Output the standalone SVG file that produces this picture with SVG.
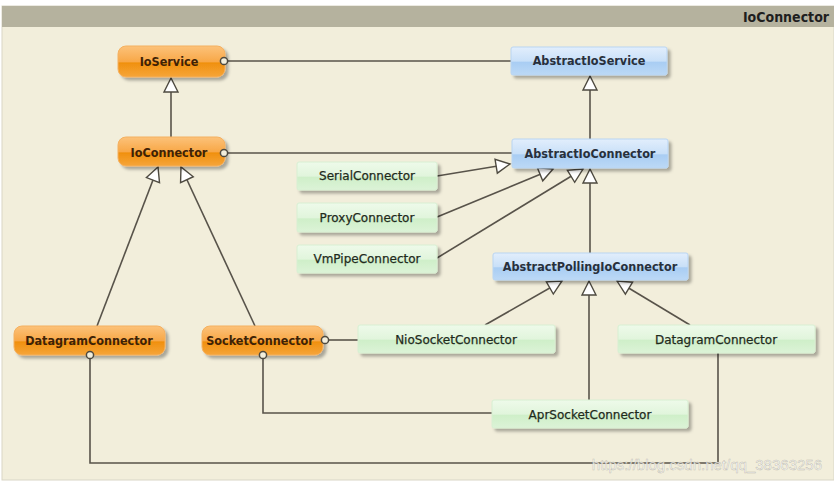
<svg xmlns="http://www.w3.org/2000/svg" width="834" height="483" viewBox="0 0 834 483">
<defs>
<linearGradient id="gOr" x1="0" y1="0" x2="0" y2="1">
<stop offset="0" stop-color="#fcc27a"/><stop offset="0.5" stop-color="#f8a848"/><stop offset="0.55" stop-color="#f0900f"/><stop offset="1" stop-color="#f6a53a"/>
</linearGradient>
<linearGradient id="gBl" x1="0" y1="0" x2="0" y2="1">
<stop offset="0" stop-color="#e2eefc"/><stop offset="0.5" stop-color="#c9e0f8"/><stop offset="0.55" stop-color="#a9cdf3"/><stop offset="1" stop-color="#bcd9f6"/>
</linearGradient>
<linearGradient id="gGr" x1="0" y1="0" x2="0" y2="1">
<stop offset="0" stop-color="#eefaea"/><stop offset="0.5" stop-color="#e1f5dc"/><stop offset="0.55" stop-color="#cfefc9"/><stop offset="1" stop-color="#dcf3d7"/>
</linearGradient>
<filter id="sh" x="-10%" y="-30%" width="130%" height="180%">
<feDropShadow dx="3" dy="3" stdDeviation="1.5" flood-color="#000" flood-opacity="0.3"/>
</filter>
<marker id="tri" markerUnits="userSpaceOnUse" markerWidth="18" markerHeight="18" viewBox="-16 -8 18 16" refX="0" refY="0" orient="auto">
<path d="M0,0 L-14,-7 L-14,7 Z" fill="#ffffff" stroke="#4e4a40" stroke-width="1.4" stroke-linejoin="miter"/>
</marker>
</defs>
<style>
.bg{fill:#f2eedb}
.ln{fill:none;stroke:#58534a;stroke-width:1.6}
.ar{fill:none;stroke:#58534a;stroke-width:1.6;marker-end:url(#tri)}
.dot{fill:#f2eedb;stroke:#4e4a40;stroke-width:1.5}
.or{fill:url(#gOr);stroke:#f4b060;stroke-width:1;filter:url(#sh)}
.bl{fill:url(#gBl);stroke:#b9d5f2;stroke-width:1;filter:url(#sh)}
.gr{fill:url(#gGr);stroke:#d8efd2;stroke-width:1;filter:url(#sh)}
.to{font-family:"DejaVu Sans Condensed","DejaVu Sans",sans-serif;font-size:12.5px;font-weight:bold;fill:#3e2206;text-anchor:middle}
.tb{font-family:"DejaVu Sans Condensed","DejaVu Sans",sans-serif;font-size:12.5px;font-weight:bold;fill:#28303c;text-anchor:middle}
.tg{font-family:"DejaVu Sans",sans-serif;font-size:12px;fill:#1f2b1c;text-anchor:middle;stroke:#1f2b1c;stroke-width:0.25}
</style>
<rect x="0" y="0" width="834" height="483" fill="#ffffff"/>
<rect x="2" y="6" width="832" height="474" class="bg" stroke="#d9d6c6" stroke-width="1"/>
<rect x="2" y="6" width="832" height="21" fill="#b5b29e"/>
<text x="829" y="22" font-family="DejaVu Sans Condensed, DejaVu Sans, sans-serif" font-size="14" font-weight="bold" fill="#1e1e1e" text-anchor="end">IoConnector</text>

<g id="connectors">
<line class="ln" x1="228" y1="61" x2="511" y2="61"/>
<line class="ln" x1="228" y1="153" x2="512" y2="153"/>
<line class="ar" x1="171" y1="137" x2="171" y2="78"/>
<line class="ar" x1="590" y1="139" x2="590" y2="76"/>
<line class="ar" x1="437" y1="176" x2="510" y2="164"/>
<line class="ar" x1="437" y1="217" x2="553" y2="169"/>
<line class="ar" x1="437" y1="258" x2="583" y2="169"/>
<line class="ar" x1="590" y1="253" x2="590" y2="169"/>
<line class="ar" x1="97" y1="326" x2="158" y2="167"/>
<line class="ar" x1="255" y1="326" x2="181" y2="167"/>
<line class="ar" x1="485" y1="325" x2="562" y2="281"/>
<line class="ar" x1="589" y1="400" x2="589" y2="281"/>
<line class="ar" x1="690" y1="325" x2="617" y2="281"/>
<line class="ln" x1="329" y1="340" x2="358" y2="340"/>
<polyline class="ln" points="263,359 263,413 492,413"/>
<polyline class="ln" points="90,359 90,463 718,463 718,353"/>
</g>

<g id="IoService"><rect class="or" x="118" y="46" width="107" height="31" rx="8"/><text class="to" x="169" y="66">IoService</text><circle class="dot" cx="224" cy="61" r="3.6"/></g>
<g id="AbstractIoService"><rect class="bl" x="511" y="47" width="156" height="28" rx="2"/><text class="tb" x="589" y="65">AbstractIoService</text></g>
<g id="IoConnector"><rect class="or" x="118" y="137" width="107" height="29" rx="8"/><text class="to" x="169" y="157">IoConnector</text><circle class="dot" cx="224" cy="153" r="3.6"/></g>
<g id="AbstractIoConnector"><rect class="bl" x="512" y="139" width="156" height="29" rx="2"/><text class="tb" x="590" y="158">AbstractIoConnector</text></g>
<g id="SerialConnector"><rect class="gr" x="297" y="162" width="140" height="28" rx="2"/><text class="tg" x="367" y="180">SerialConnector</text></g>
<g id="ProxyConnector"><rect class="gr" x="297" y="203" width="140" height="29" rx="2"/><text class="tg" x="367" y="222">ProxyConnector</text></g>
<g id="VmPipeConnector"><rect class="gr" x="297" y="245" width="140" height="28" rx="2"/><text class="tg" x="367" y="263">VmPipeConnector</text></g>
<g id="AbstractPollingIoConnector"><rect class="bl" x="493" y="253" width="195" height="27" rx="2"/><text class="tb" x="590" y="271">AbstractPollingIoConnector</text></g>
<g id="DatagramConnectorLeft"><rect class="or" x="14" y="326" width="151" height="29" rx="8"/><text class="to" x="89" y="345">DatagramConnector</text><circle class="dot" cx="90" cy="355" r="3.6"/></g>
<g id="SocketConnector"><rect class="or" x="202" y="326" width="121" height="29" rx="8"/><text class="to" x="260" y="345">SocketConnector</text><circle class="dot" cx="325" cy="340" r="3.6"/><circle class="dot" cx="263" cy="355" r="3.6"/></g>
<g id="NioSocketConnector"><rect class="gr" x="358" y="325" width="197" height="28" rx="2"/><text class="tg" x="456" y="344">NioSocketConnector</text></g>
<g id="DatagramConnectorRight"><rect class="gr" x="618" y="325" width="197" height="28" rx="2"/><text class="tg" x="716" y="344">DatagramConnector</text></g>
<g id="AprSocketConnector"><rect class="gr" x="492" y="400" width="196" height="28" rx="2"/><text class="tg" x="590" y="419">AprSocketConnector</text></g>

<text x="822" y="470" font-family="Liberation Sans, Arial, sans-serif" font-size="15" fill="#ffffff" fill-opacity="0.85" stroke="#9a988c" stroke-width="0.5" stroke-opacity="0.6" text-anchor="end">https://blog.csdn.net/qq_38363256</text>
</svg>
